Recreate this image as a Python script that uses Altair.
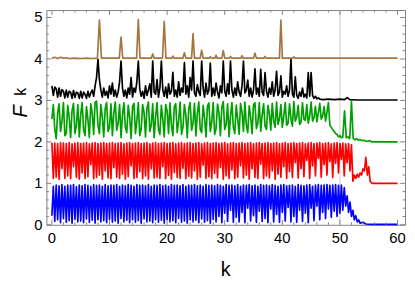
import altair as alt
import pandas as pd

STEP = 0.25  # sampling step of the main parts of each series

blue_main = [
    0.22,0.93,0.08,0.96,0.12,0.94,0.05,0.97,0.15,0.93,
    0.06,0.96,0.10,0.95,0.04,0.97,0.13,0.92,0.07,0.96,
    0.09,0.94,0.05,0.97,0.14,0.95,0.06,0.93,0.11,0.97,
    0.04,0.95,0.12,0.96,0.07,0.93,0.10,0.97,0.05,0.94,
    0.13,0.96,0.06,0.95,0.09,0.97,0.04,0.93,0.15,0.96,
    0.07,0.94,0.11,0.97,0.05,0.95,0.12,0.93,0.06,0.97,
    0.10,0.95,0.04,0.96,0.14,0.94,0.07,0.97,0.09,0.93,
    0.05,0.96,0.12,0.95,0.06,0.97,0.11,0.94,0.04,0.96,
    0.13,0.93,0.07,0.97,0.10,0.95,0.05,0.96,0.15,0.94,
    0.06,0.97,0.09,0.93,0.04,0.96,0.12,0.95,0.07,0.97,
    0.11,0.94,0.05,0.96,0.14,0.93,0.06,0.97,0.10,0.95,
    0.04,0.96,0.13,0.94,0.07,0.97,0.20,0.95,0.05,0.93,
    0.28,0.97,0.08,0.95,0.35,0.96,0.06,0.94,0.18,0.97,
    0.07,0.93,0.30,0.96,0.05,0.95,0.40,0.97,0.09,0.94,
    0.22,0.96,0.06,0.93,0.33,0.97,0.08,0.95,0.15,0.96,
    0.05,0.94,0.38,0.97,0.07,0.95,0.25,0.93,0.06,0.96,
    0.30,0.97,0.09,0.94,0.42,0.95,0.07,0.96,0.20,0.93,
    0.06,0.97,0.35,0.95,0.08,0.94,0.28,0.96,0.05,0.97,
    0.40,0.93,0.10,0.96,0.45,0.97,0.12,0.95,0.30,0.96,
    0.15,0.97,0.38,0.95,0.18,0.96,0.33,0.97,0.20,0.95,
    0.28,0.96,0.35,
]
blue_tail_k = [50.75,51.0,51.25,51.5,51.75,52.0,52.25,52.5,52.75,53.0,53.25,53.5,54.0,54.5,55.5,60.0]
blue_tail_v = [0.90,0.45,0.70,0.30,0.55,0.20,0.35,0.12,0.22,0.07,0.12,0.04,0.06,0.02,0.01,0.01]

red_main = [
    0.98,0.12,0.97,0.15,0.96,0.10,0.98,0.35,0.97,0.12,
    0.96,0.18,0.98,0.11,0.95,0.40,0.97,0.14,0.98,0.10,
    0.96,0.25,0.97,0.12,0.98,0.16,0.95,0.45,0.97,0.11,
    0.98,0.14,0.96,0.20,0.97,0.10,0.98,0.30,0.96,0.13,
    0.97,0.11,0.98,0.38,0.96,0.15,0.97,0.12,0.98,0.22,
    0.95,0.10,0.97,0.16,0.98,0.42,0.96,0.12,0.97,0.14,
    0.98,0.28,0.96,0.11,0.97,0.18,0.98,0.10,0.95,0.35,
    0.97,0.13,0.98,0.15,0.96,0.12,0.97,0.40,0.98,0.11,
    0.96,0.19,0.97,0.10,0.98,0.26,0.95,0.14,0.97,0.12,
    0.98,0.36,0.96,0.11,0.97,0.17,0.98,0.13,0.96,0.30,
    0.97,0.10,0.98,0.15,0.95,0.44,0.97,0.12,0.98,0.16,
    0.96,0.11,0.97,0.24,0.98,0.13,0.96,0.38,0.97,0.10,
    0.98,0.18,0.95,0.12,0.97,0.32,0.98,0.11,0.96,0.15,
    0.97,0.42,0.98,0.13,0.96,0.20,0.97,0.10,0.98,0.35,
    0.95,0.14,0.97,0.12,0.98,0.46,0.96,0.11,0.97,0.18,
    0.98,0.13,0.96,0.30,0.97,0.10,0.98,0.22,0.95,0.15,
    0.97,0.40,0.98,0.12,0.96,0.28,0.97,0.14,0.98,0.50,
    0.96,0.13,0.97,0.35,0.98,0.16,0.95,0.55,0.97,0.12,
    0.98,0.42,0.96,0.18,0.97,0.60,0.98,0.15,0.96,0.45,
    0.97,0.20,0.98,0.52,0.95,0.14,0.97,0.48,0.98,0.25,
    0.96,0.58,0.97,0.18,0.95,0.50,0.96,0.30,0.93,
]
red_tail_k = [52.25,52.5,52.75,53.0,53.25,53.5,53.75,54.0,54.25,54.5,54.75,55.0,55.25,55.6,60.0]
red_tail_v = [0.05,0.20,0.12,0.22,0.15,0.25,0.20,0.35,0.30,0.63,0.20,0.40,0.05,0.00,0.00]

green_main = [
    0.55,0.90,0.30,0.08,0.70,0.92,0.25,0.50,0.95,0.15,
    0.20,0.88,0.60,0.10,0.75,0.93,0.20,0.40,0.90,0.12,
    0.65,0.95,0.30,0.15,0.85,0.55,0.10,0.92,0.70,0.18,
    0.95,0.98,0.40,0.20,0.90,0.60,0.12,0.80,0.95,0.25,
    0.35,0.92,0.15,0.70,0.96,0.28,0.45,0.90,0.10,0.65,
    0.94,0.35,0.22,0.88,0.60,0.08,0.85,0.93,0.20,0.50,
    0.95,0.15,0.30,0.90,0.70,0.12,0.82,0.96,0.25,0.40,
    0.92,0.10,0.60,0.95,0.30,0.18,0.88,0.55,0.12,0.90,
    0.75,0.20,0.94,0.40,0.15,0.85,0.92,0.22,0.50,0.96,
    0.18,0.35,0.90,0.65,0.10,0.80,0.95,0.28,0.45,0.93,
    0.14,0.70,0.96,0.30,0.22,0.88,0.58,0.12,0.86,0.94,
    0.25,0.48,0.95,0.18,0.32,0.91,0.70,0.15,0.84,0.97,
    0.30,0.42,0.92,0.12,0.62,0.95,0.35,0.20,0.89,0.55,
    0.18,0.93,0.72,0.25,0.96,0.40,0.22,0.87,0.60,0.20,
    0.90,0.94,0.32,0.45,0.95,0.25,0.65,0.92,0.38,0.30,
    0.88,0.68,0.28,0.93,0.50,0.35,0.96,0.42,0.55,0.90,
    0.35,0.62,0.95,0.40,0.45,0.92,0.55,0.38,0.97,0.50,
    0.60,0.88,0.42,0.48,0.94,0.55,0.52,0.90,0.45,0.62,
    0.96,0.50,0.58,0.86,0.48,0.70,0.93,0.55,0.62,0.85,
    0.50,0.72,0.95,0.40,0.35,
]
green_tail_k = [48.75,49.0,49.25,49.5,49.75,50.0,50.25,50.5,50.8,51.1,51.4,51.7,52.0,52.3,52.6,52.9,53.2,53.5,53.8,54.2,54.6,55.2,55.5,60.0]
green_tail_v = [0.30,0.25,0.20,0.18,0.12,0.15,0.10,0.12,0.75,0.10,0.12,0.08,0.97,0.08,0.05,0.08,0.04,0.06,0.03,0.04,0.01,0.03,0.00,0.00]

black_main = [
    0.35,0.12,0.32,0.28,0.08,0.30,0.10,0.26,0.22,0.06,
    0.25,0.08,0.22,0.20,0.05,0.24,0.07,0.20,0.18,0.05,
    0.22,0.06,0.20,0.15,0.05,0.22,0.08,0.18,0.25,0.10,
    0.35,0.55,0.99,0.50,0.25,0.08,0.30,0.12,0.22,0.06,
    0.35,0.15,0.42,0.10,0.25,0.08,0.20,0.45,0.95,0.30,
    0.10,0.25,0.06,0.30,0.15,0.55,0.08,0.30,0.20,0.45,
    0.95,0.28,0.10,0.22,0.05,0.35,0.12,0.25,0.40,0.08,
    0.95,0.20,0.15,0.50,0.08,0.30,0.95,0.25,0.10,0.32,
    0.06,0.40,0.15,0.22,0.68,0.10,0.25,0.08,0.45,0.12,
    0.30,0.20,0.91,0.15,0.35,0.08,0.55,0.25,0.95,0.18,
    0.10,0.38,0.20,0.12,0.95,0.30,0.08,0.42,0.15,0.25,
    0.90,0.10,0.30,0.12,0.42,0.20,0.06,0.35,0.18,0.95,
    0.22,0.10,0.40,0.15,0.95,0.25,0.08,0.30,0.12,0.45,
    0.20,0.10,0.35,0.95,0.18,0.25,0.49,0.10,0.30,0.08,
    0.25,0.76,0.15,0.30,0.10,0.75,0.20,0.12,0.67,0.22,
    0.08,0.30,0.15,0.45,0.10,0.25,0.70,0.12,0.20,0.59,
    0.08,0.22,0.15,0.35,0.10,0.25,1.00,0.15,0.08,0.57,
    0.12,0.05,0.20,0.10,0.30,0.08,0.15,0.06,0.67,0.10,
    0.67,0.12,0.05,0.10,0.04,0.06,0.03,
]
black_tail_k = [47.0,48.0,49.0,50.0,50.8,51.3,51.7,53.0,60.0]
black_tail_v = [0.02,0.03,0.02,0.03,0.02,0.07,0.02,0.01,0.01]

brown_k = [0,0.5,1.0,1.5,2.0,2.5,3.0,4.0,5.0,6.0,7.0,7.9,8.25,8.6,11.7,12.0,12.3,14.7,15.0,15.3,
           17.25,17.5,17.75,19.2,19.5,19.8,20.8,21.0,21.2,22.75,23.0,23.25,24.25,24.5,24.75,
           25.75,26.0,26.25,27.3,27.5,27.7,28.3,28.5,28.7,29.5,29.75,30.0,30.8,31.0,31.2,
           32.8,33.0,33.2,35.0,35.25,35.5,36.8,37.0,37.2,39.5,39.75,40.0,41.8,42.0,42.2,60.0]
brown_v = [0.02,0.04,0.01,0.04,0.02,0.03,0.01,0.02,0.01,0.02,0.01,0.02,0.94,0.02,0.02,0.53,0.02,0.02,0.95,0.02,
           0.02,0.12,0.02,0.02,0.91,0.02,0.02,0.07,0.02,0.02,0.15,0.02,0.02,0.61,0.02,
           0.02,0.21,0.02,0.02,0.05,0.02,0.02,0.09,0.02,0.02,0.20,0.02,0.02,0.06,0.02,
           0.02,0.08,0.02,0.02,0.14,0.02,0.02,0.06,0.02,0.02,0.94,0.02,0.02,0.05,0.02,0.02]

series_names = ["blue", "red", "green", "black", "brown"]
series_colors = ["#0000FF", "#FF0000", "#00A000", "#000000", "#A5753F"]
offsets = [0, 1, 2, 3, 4]

x_ticks = [0, 10, 20, 30, 40, 50, 60]
x_minor = [v for v in range(0, 61, 2) if v % 10]
y_ticks = [0, 1, 2, 3, 4, 5]
y_minor = [round(i * 0.2, 1) for i in range(0, 26) if i % 5]
grid_x = [50]

def grid_part(main):
    return [i * STEP for i in range(len(main))]

parts = [
    (grid_part(blue_main) + blue_tail_k, blue_main + blue_tail_v),
    (grid_part(red_main) + red_tail_k, red_main + red_tail_v),
    (grid_part(green_main) + green_tail_k, green_main + green_tail_v),
    (grid_part(black_main) + black_tail_k, black_main + black_tail_v),
    (brown_k, brown_v),
]
frames = []
for name, off, (ks, vs) in zip(series_names, offsets, parts):
    frames.append(pd.DataFrame({"k": ks, "F": [v + off for v in vs], "series": name}))
df = pd.concat(frames, ignore_index=True)

W, H = 364, 218
FONT = "Liberation Sans"
FRAME = "#808080"
xs = alt.Scale(domain=[-0.95, 61.3], nice=False, zero=False)
ys = alt.Scale(domain=[0, 5.18], nice=False, zero=False)

grid = alt.Chart(pd.DataFrame({"g": grid_x})).mark_rule(color="#cccccc", strokeWidth=1).encode(
    x=alt.X("g:Q", scale=xs, axis=None), y=alt.value(0), y2=alt.value(H))

lines = alt.Chart(df).mark_line(strokeWidth=1.7, strokeJoin="round").encode(
    x=alt.X("k:Q", scale=xs, axis=None),
    y=alt.Y("F:Q", scale=ys, axis=None),
    color=alt.Color("series:N", scale=alt.Scale(domain=series_names, range=series_colors), legend=None),
    order=alt.Order("k:Q"),
)

def xtick(vals, y0, y1):
    return alt.Chart(pd.DataFrame({"t": vals})).mark_rule(color=FRAME, strokeWidth=1).encode(
        x=alt.X("t:Q", scale=xs, axis=None), y=alt.value(y0), y2=alt.value(y1))

def ytick(vals, x0, x1):
    return alt.Chart(pd.DataFrame({"t": vals})).mark_rule(color=FRAME, strokeWidth=1).encode(
        y=alt.Y("t:Q", scale=ys, axis=None), x=alt.value(x0), x2=alt.value(x1))

ticks = [
    xtick(x_ticks, H, H - 5), xtick(x_minor, H, H - 2.5),
    xtick(x_ticks, 0, 5), xtick(x_minor, 0, 2.5),
    ytick(y_ticks, 0, 5), ytick(y_minor, 0, 2.5),
    ytick(y_ticks, W, W - 5), ytick(y_minor, W, W - 2.5),
]

xlabels = alt.Chart(pd.DataFrame({"t": x_ticks})).mark_text(
    font=FONT, fontSize=15, color="black", align="center", baseline="middle").encode(
    x=alt.X("t:Q", scale=xs, axis=None), y=alt.value(H + 13), text=alt.Text("t:Q", format="d"))
ylabels = alt.Chart(pd.DataFrame({"t": y_ticks})).mark_text(
    font=FONT, fontSize=15, color="black", align="right", baseline="middle").encode(
    y=alt.Y("t:Q", scale=ys, axis=None), x=alt.value(-4), text=alt.Text("t:Q", format="d"))

title_df = pd.DataFrame({"t": ["k"]})
xtitle = alt.Chart(title_df).mark_text(font=FONT, fontSize=20, color="black", baseline="alphabetic",
                                       align="center", text="k").encode(
    x=alt.value(W / 2), y=alt.value(270))
ytitle_F = alt.Chart(title_df).mark_text(font=FONT, fontSize=21, fontStyle="italic", color="black",
                                         angle=270, baseline="middle", align="center", text="F").encode(
    x=alt.value(-26), y=alt.value(103))
ytitle_k = alt.Chart(title_df).mark_text(font=FONT, fontSize=16, color="black",
                                         angle=270, baseline="middle", align="center", text="k").encode(
    x=alt.value(-25.5), y=alt.value(83))

chart = alt.layer(grid, lines, *ticks, xlabels, ylabels, xtitle, ytitle_F, ytitle_k).properties(
    width=W, height=H,
    autosize=alt.AutoSizeParams(type="none"),
    padding={"left": 39, "top": 0, "right": 2, "bottom": 56},
).configure_view(stroke=FRAME, strokeWidth=1)

chart.save("out.html", embed_options={"renderer": "svg", "actions": False})
